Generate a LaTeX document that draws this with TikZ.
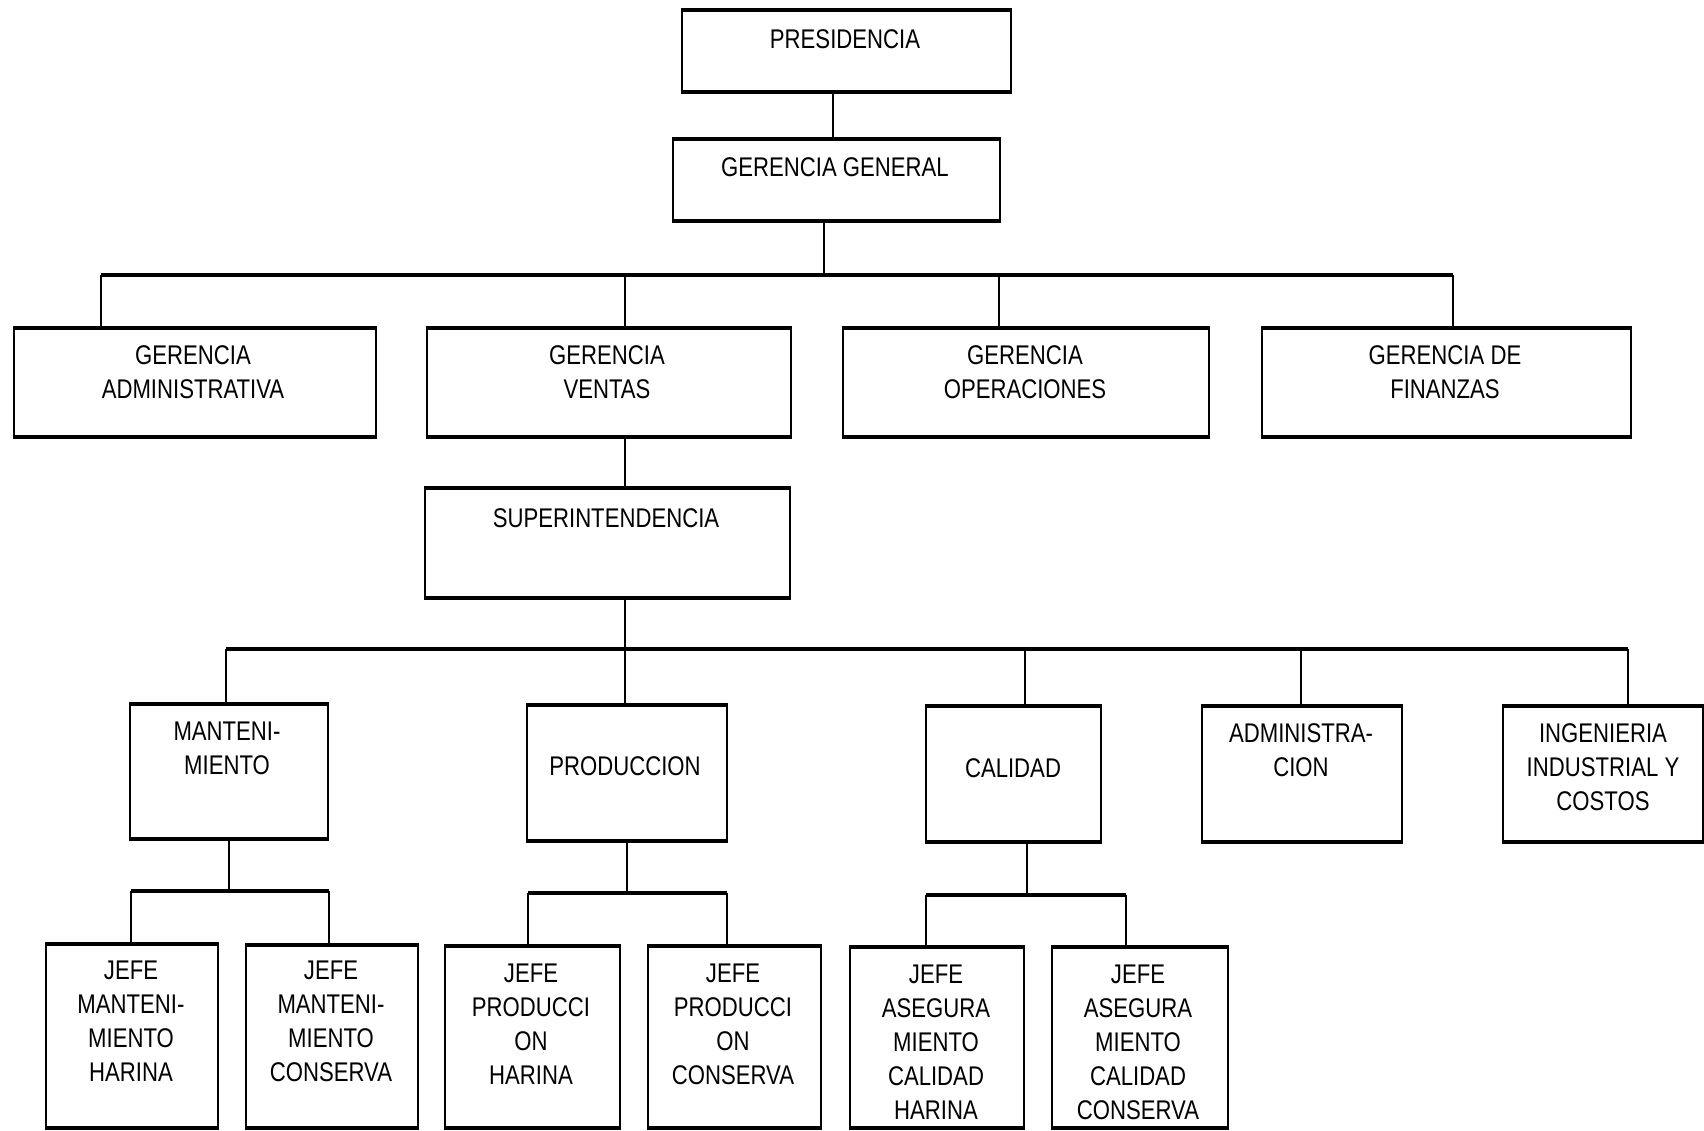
\documentclass[tikz,border=0pt]{standalone}
\usepackage{fontspec}
\setmainfont{Liberation Sans}[FakeStretch=0.82]
\begin{document}
\begin{tikzpicture}[x=1pt,y=-1pt,
  box/.style={draw,line width=1.8pt,inner sep=0pt},
  lbl/.style={align=center,inner sep=0pt,font=\fontsize{27}{34}\selectfont},
  vline/.style={line width=1.8pt},
  hbar/.style={line width=3.2pt}]
\useasboundingbox (0,0) rectangle (1704,1130);
% boxes: (left,top) rectangle (right,bottom)
\newcommand{\mybox}[5]{%
  \node[box,minimum width=#4-#2,minimum height=#5-#3,anchor=north west] (#1) at (#2,#3) {};
  \draw[line width=3.4pt] (#1.north west) -- (#1.north east);
  \draw[line width=3.4pt] (#1.south west) -- (#1.south east);}
\mybox{pres}{681}{10}{1010}{90}
\mybox{gg}{672}{139}{999}{219}
\mybox{gadm}{13}{328}{375}{435}
\mybox{gven}{426}{328}{790}{435}
\mybox{gope}{842}{328}{1208}{435}
\mybox{gfin}{1261}{328}{1630}{435}
\mybox{sup}{424}{488}{789}{596}
\mybox{mant}{129}{704}{327}{837}
\mybox{prod}{526}{705}{726}{839}
\mybox{cal}{925}{706}{1100}{840}
\mybox{adm}{1201}{706}{1401}{840}
\mybox{ing}{1502}{706}{1702}{840}
\mybox{j1}{45}{944}{217}{1126}
\mybox{j2}{245}{945}{417}{1126}
\mybox{j3}{444}{946}{619}{1126}
\mybox{j4}{647}{946}{820}{1126}
\mybox{j5}{849}{947}{1023}{1126}
\mybox{j6}{1051}{947}{1227}{1126}
% texts
\node[lbl] (tpres) at (845,39) {PRESIDENCIA};
\node[lbl] (tgg) at (835,167) {GERENCIA GENERAL};
\node[lbl] (tgadm) at (193,372) {GERENCIA\\ADMINISTRATIVA};
\node[lbl] (tgven) at (607,372) {GERENCIA\\VENTAS};
\node[lbl] (tgope) at (1025,372) {GERENCIA\\OPERACIONES};
\node[lbl] (tgfin) at (1445,372) {GERENCIA DE\\FINANZAS};
\node[lbl] (tsup) at (606,518) {SUPERINTENDENCIA};
\node[lbl] (tmant) at (227,748) {MANTENI-\\MIENTO};
\node[lbl] (tprod) at (625,766) {PRODUCCION};
\node[lbl] (tcal) at (1013,768) {CALIDAD};
\node[lbl] (tadm) at (1301,750) {ADMINISTRA-\\CION};
\node[lbl] (ting) at (1603,767) {INGENIERIA\\INDUSTRIAL Y\\COSTOS};
\node[lbl] (tj1) at (131,1021) {JEFE\\MANTENI-\\MIENTO\\HARINA};
\node[lbl] (tj2) at (331,1021) {JEFE\\MANTENI-\\MIENTO\\CONSERVA};
\node[lbl] (tj3) at (531,1024) {JEFE\\PRODUCCI\\ON\\HARINA};
\node[lbl] (tj4) at (733,1024) {JEFE\\PRODUCCI\\ON\\CONSERVA};
\node[lbl] (tj5) at (936,1042) {JEFE\\ASEGURA\\MIENTO\\CALIDAD\\HARINA};
\node[lbl] (tj6) at (1138,1042) {JEFE\\ASEGURA\\MIENTO\\CALIDAD\\CONSERVA};
% connectors level 0-1
\coordinate (c0) at (833,90);
\draw[vline] (c0) -- (c0 |- gg.north);
% level 1-2
\coordinate (b1) at (824,275);
\draw[vline] (b1 |- gg.south) -- (b1);
\coordinate (d1) at (101,275);
\coordinate (d2) at (625,275);
\coordinate (d3) at (999,275);
\coordinate (d4) at (1453,275);
\draw[hbar] (d1) -- (d4);
\draw[vline] (d1) -- (d1 |- gadm.north);
\draw[vline] (d2) -- (d2 |- gven.north);
\draw[vline] (d3) -- (d3 |- gope.north);
\draw[vline] (d4) -- (d4 |- gfin.north);
% ventas to superintendencia
\draw[vline] (d2 |- gven.south) -- (d2 |- sup.north);
% superintendencia to level 3
\coordinate (e0) at (625,649);
\coordinate (e1) at (226,649);
\coordinate (e2) at (625,649);
\coordinate (e3) at (1025,649);
\coordinate (e4) at (1301,649);
\coordinate (e5) at (1628,649);
\draw[vline] (e0 |- sup.south) -- (e0);
\draw[hbar] (e1) -- (e5);
\draw[vline] (e1) -- (e1 |- mant.north);
\draw[vline] (e2) -- (e2 |- prod.north);
\draw[vline] (e3) -- (e3 |- cal.north);
\draw[vline] (e4) -- (e4 |- adm.north);
\draw[vline] (e5) -- (e5 |- ing.north);
% mantenimiento to jefes
\coordinate (m0) at (229,891);
\coordinate (m1) at (131,891);
\coordinate (m2) at (329,891);
\draw[vline] (m0 |- mant.south) -- (m0);
\draw[hbar] (m1) -- (m2);
\draw[vline] (m1) -- (m1 |- j1.north);
\draw[vline] (m2) -- (m2 |- j2.north);
% produccion to jefes
\coordinate (p0) at (627,893);
\coordinate (p1) at (528,893);
\coordinate (p2) at (727,893);
\draw[vline] (p0 |- prod.south) -- (p0);
\draw[hbar] (p1) -- (p2);
\draw[vline] (p1) -- (p1 |- j3.north);
\draw[vline] (p2) -- (p2 |- j4.north);
% calidad to jefes
\coordinate (q0) at (1027,895);
\coordinate (q1) at (926,895);
\coordinate (q2) at (1126,895);
\draw[vline] (q0 |- cal.south) -- (q0);
\draw[hbar] (q1) -- (q2);
\draw[vline] (q1) -- (q1 |- j5.north);
\draw[vline] (q2) -- (q2 |- j6.north);
\end{tikzpicture}
\end{document}
